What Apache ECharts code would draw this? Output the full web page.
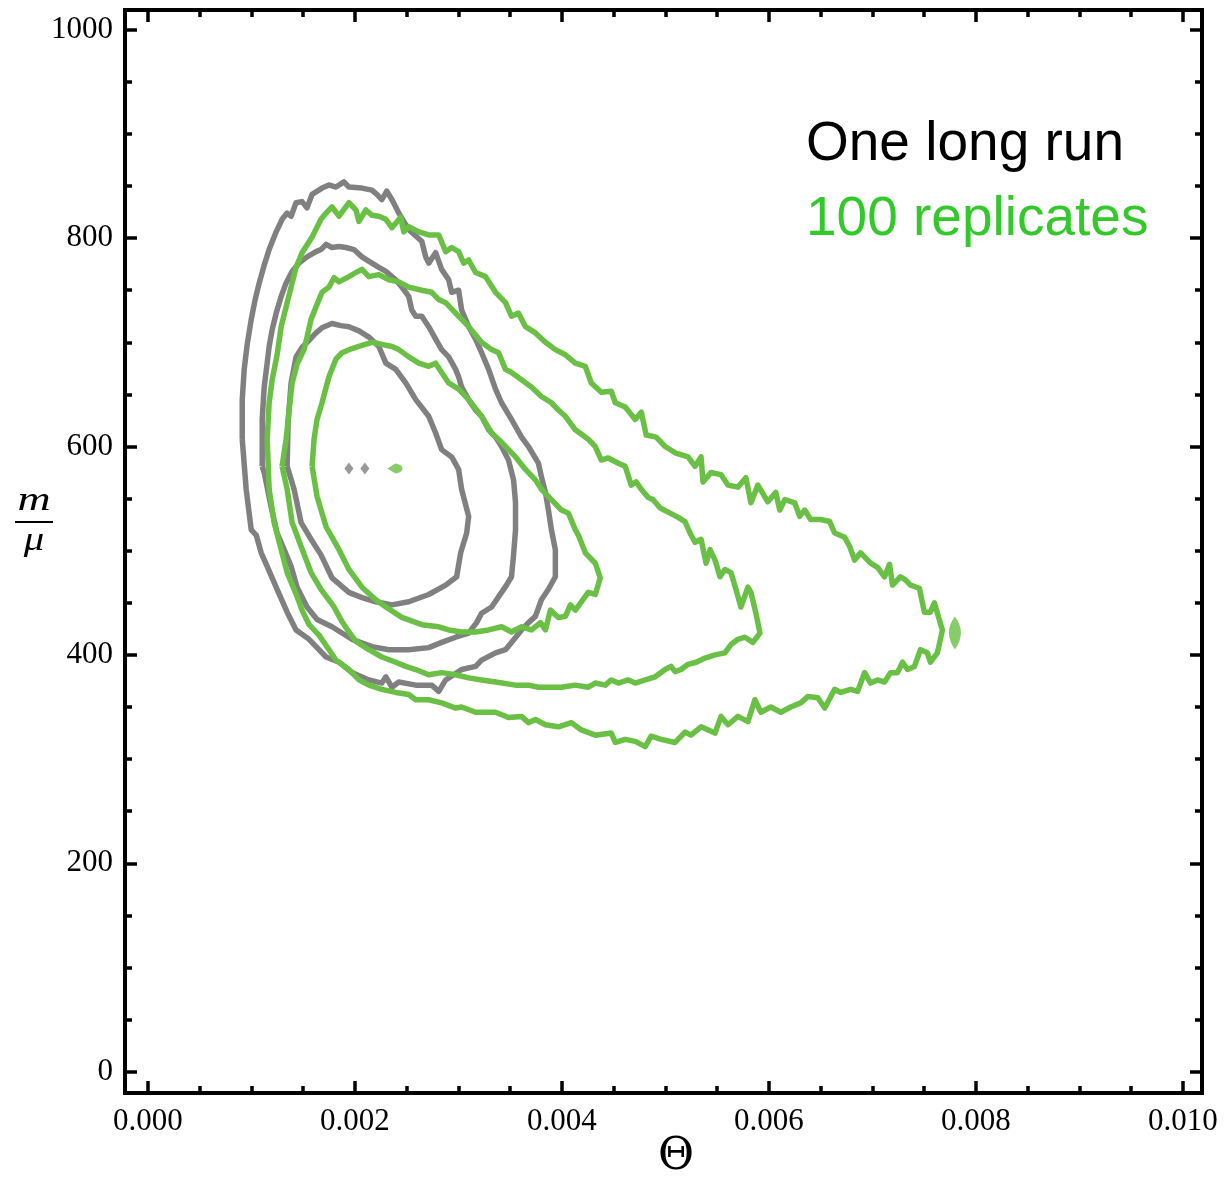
<!DOCTYPE html>
<html lang="en">
<head>
    <meta charset="UTF-8">
    <title>Contours</title>
    <style>
        html, body { margin: 0; padding: 0; background: #fff; }
        #box { width: 1230px; height: 1181px; }
    </style>
</head>
<body>
    <div id="box"></div>
</body>
<script src="https://cdn.jsdelivr.net/npm/echarts@6/dist/echarts.min.js"></script>
<script>
    // tick values
    var xMajor = [0, 0.002, 0.004, 0.006, 0.008, 0.010];
    var xMinor = [0.0005, 0.001, 0.0015, 0.0025, 0.003, 0.0035, 0.0045, 0.005, 0.0055,
        0.0065, 0.007, 0.0075, 0.0085, 0.009, 0.0095];
    var yMajor = [0, 200, 400, 600, 800, 1000];
    var yMinor = [50, 100, 150, 250, 300, 350, 450, 500, 550, 650, 700, 750, 850, 900, 950];

    // one long run (gray), outer / middle / inner contour
    var grayOuter = [[0.000911,607],[0.000911,645],[0.000930,674],[0.000959,698],[0.000998,722],[0.001036,741],[0.001075,757],[0.001123,774],[0.001171,789],[0.001239,806],[0.001296,818],[0.001345,824],[0.001383,821],[0.001431,834],[0.001489,835],[0.001537,829],[0.001586,842],[0.001682,848],[0.001749,851],[0.001817,849],[0.001894,854],[0.001942,849],[0.002068,848],[0.002164,846],[0.002212,842],[0.002260,837],[0.002308,845],[0.002357,837],[0.002424,824],[0.002520,808],[0.002646,797],[0.002684,782],[0.002713,776],[0.002780,786],[0.002838,770],[0.002906,760],[0.002935,748],[0.003002,750],[0.003031,731],[0.003099,715],[0.003166,703],[0.003224,690],[0.003292,674],[0.003359,655],[0.003417,642],[0.003513,626],[0.003610,609],[0.003677,600],[0.003773,584],[0.003802,571],[0.003841,556],[0.003870,539],[0.003899,520],[0.003937,501],[0.003937,475],[0.003870,463],[0.003802,453],[0.003744,437],[0.003677,431],[0.003610,424],[0.003513,412],[0.003455,405],[0.003359,402],[0.003224,395],[0.003166,389],[0.003031,386],[0.002877,376],[0.002810,365],[0.002742,371],[0.002588,371],[0.002424,374],[0.002357,369],[0.002299,379],[0.002260,373],[0.002135,376],[0.001971,383],[0.001846,393],[0.001721,398],[0.001557,415],[0.001431,424],[0.001345,441],[0.001248,463],[0.001152,485],[0.001094,498],[0.001046,515],[0.000998,520],[0.000949,559]];
    var grayMiddle = [[0.001104,581],[0.001104,626],[0.001123,657],[0.001152,680],[0.001171,696],[0.001200,712],[0.001239,728],[0.001287,744],[0.001335,757],[0.001393,768],[0.001460,776],[0.001537,782],[0.001624,787],[0.001672,789],[0.001721,794],[0.001778,791],[0.001846,792],[0.001913,791],[0.001990,789],[0.002068,782],[0.002164,776],[0.002231,772],[0.002299,768],[0.002395,760],[0.002453,753],[0.002520,744],[0.002549,731],[0.002588,725],[0.002646,725],[0.002713,715],[0.002780,703],[0.002838,693],[0.002906,686],[0.002973,674],[0.003002,667],[0.003031,657],[0.003099,645],[0.003166,635],[0.003224,629],[0.003292,616],[0.003359,609],[0.003417,600],[0.003484,587],[0.003533,568],[0.003552,546],[0.003552,520],[0.003533,496],[0.003513,475],[0.003465,467],[0.003417,460],[0.003321,446],[0.003224,440],[0.003176,431],[0.003099,421],[0.002973,417],[0.002838,412],[0.002713,407],[0.002520,405],[0.002328,405],[0.002164,408],[0.001971,415],[0.001778,427],[0.001634,434],[0.001537,446],[0.001441,465],[0.001383,485],[0.001316,501],[0.001248,517],[0.001190,542],[0.001123,575]];
    var grayInner = [[0.001345,581],[0.001354,623],[0.001383,661],[0.001431,686],[0.001489,695],[0.001557,702],[0.001624,709],[0.001682,714],[0.001778,718],[0.001865,716],[0.001942,715],[0.002039,711],[0.002135,705],[0.002231,696],[0.002299,680],[0.002395,674],[0.002491,661],[0.002588,645],[0.002713,629],[0.002780,613],[0.002838,597],[0.002935,590],[0.003002,578],[0.003031,559],[0.003099,533],[0.003080,517],[0.003022,498],[0.002983,475],[0.002877,467],[0.002713,458],[0.002520,451],[0.002357,448],[0.002202,451],[0.002068,455],[0.001942,460],[0.001778,474],[0.001672,496],[0.001576,511],[0.001480,527],[0.001412,559]];
    var grayPeak = [[0.001942,579],[0.002096,579]];

    // 100 replicates (green), outer / middle / inner contour
    var greenOuter = [[0.001171,559],[0.001152,607],[0.001171,642],[0.001200,664],[0.001248,688],[0.001287,715],[0.001335,734],[0.001383,753],[0.001431,772],[0.001489,786],[0.001586,801],[0.001672,818],[0.001721,824],[0.001778,830],[0.001846,821],[0.001942,834],[0.002010,827],[0.002039,816],[0.002106,827],[0.002164,822],[0.002231,821],[0.002299,818],[0.002357,810],[0.002443,820],[0.002472,806],[0.002520,811],[0.002617,806],[0.002713,803],[0.002810,803],[0.002877,787],[0.002935,791],[0.003002,787],[0.003051,776],[0.003099,779],[0.003166,767],[0.003263,763],[0.003359,748],[0.003455,738],[0.003513,725],[0.003581,728],[0.003648,715],[0.003744,709],[0.003841,700],[0.003937,693],[0.004034,688],[0.004130,680],[0.004226,677],[0.004284,661],[0.004381,652],[0.004477,653],[0.004516,642],[0.004612,638],[0.004709,626],[0.004767,633],[0.004815,611],[0.004911,609],[0.004998,600],[0.005094,594],[0.005219,590],[0.005287,581],[0.005345,590],[0.005364,566],[0.005441,575],[0.005538,573],[0.005605,563],[0.005701,561],[0.005778,570],[0.005827,546],[0.005894,563],[0.005990,547],[0.006067,556],[0.006106,539],[0.006154,549],[0.006250,546],[0.006298,533],[0.006347,539],[0.006404,530],[0.006501,530],[0.006588,528],[0.006636,517],[0.006732,513],[0.006781,504],[0.006829,491],[0.006887,498],[0.006983,488],[0.007051,484],[0.007118,475],[0.007166,487],[0.007195,467],[0.007272,475],[0.007320,472],[0.007369,467],[0.007455,464],[0.007503,441],[0.007561,441],[0.007600,450],[0.007629,440],[0.007677,424],[0.007658,415],[0.007629,402],[0.007561,393],[0.007532,402],[0.007465,405],[0.007407,389],[0.007340,386],[0.007292,393],[0.007243,383],[0.007176,383],[0.007118,374],[0.007051,376],[0.006983,373],[0.006925,383],[0.006858,365],[0.006791,367],[0.006694,364],[0.006636,367],[0.006540,349],[0.006472,359],[0.006376,360],[0.006308,354],[0.006212,350],[0.006116,345],[0.006019,350],[0.005923,345],[0.005865,357],[0.005798,336],[0.005701,341],[0.005605,333],[0.005538,341],[0.005480,325],[0.005345,331],[0.005248,323],[0.005190,326],[0.005094,316],[0.004959,319],[0.004863,322],[0.004805,312],[0.004709,317],[0.004612,319],[0.004516,316],[0.004477,325],[0.004323,323],[0.004188,328],[0.004092,335],[0.003966,331],[0.003841,333],[0.003744,338],[0.003677,335],[0.003610,341],[0.003484,340],[0.003359,345],[0.003263,345],[0.003166,345],[0.003031,350],[0.002973,349],[0.002838,354],[0.002713,357],[0.002588,357],[0.002520,362],[0.002395,364],[0.002260,367],[0.002135,371],[0.002039,376],[0.001942,386],[0.001817,395],[0.001749,405],[0.001653,419],[0.001557,429],[0.001489,443],[0.001441,456],[0.001345,479],[0.001287,501],[0.001219,527]];
    var greenMiddle = [[0.001296,581],[0.001335,607],[0.001364,635],[0.001393,661],[0.001441,679],[0.001508,693],[0.001537,705],[0.001576,722],[0.001624,734],[0.001682,748],[0.001749,753],[0.001798,762],[0.001846,758],[0.001942,763],[0.002010,767],[0.002068,770],[0.002135,763],[0.002231,765],[0.002328,760],[0.002424,758],[0.002520,753],[0.002646,750],[0.002742,748],[0.002810,741],[0.002877,738],[0.002973,728],[0.003099,715],[0.003224,700],[0.003321,693],[0.003388,690],[0.003455,674],[0.003513,671],[0.003610,664],[0.003706,657],[0.003802,648],[0.003899,642],[0.003966,635],[0.004034,629],[0.004130,616],[0.004255,607],[0.004323,600],[0.004381,587],[0.004448,589],[0.004545,584],[0.004612,581],[0.004670,563],[0.004718,566],[0.004767,559],[0.004834,551],[0.004882,549],[0.004950,541],[0.005027,537],[0.005123,532],[0.005190,528],[0.005238,517],[0.005287,508],[0.005345,511],[0.005393,488],[0.005432,501],[0.005480,491],[0.005528,475],[0.005576,482],[0.005634,479],[0.005682,463],[0.005730,446],[0.005798,465],[0.005827,460],[0.005875,440],[0.005914,421],[0.005846,412],[0.005769,417],[0.005701,415],[0.005634,410],[0.005576,402],[0.005480,400],[0.005384,397],[0.005297,393],[0.005219,391],[0.005152,386],[0.005094,384],[0.005055,389],[0.004998,386],[0.004902,379],[0.004805,376],[0.004709,373],[0.004641,376],[0.004545,373],[0.004477,376],[0.004419,371],[0.004323,373],[0.004255,369],[0.004130,371],[0.003995,369],[0.003870,369],[0.003773,369],[0.003677,371],[0.003552,371],[0.003359,374],[0.003224,376],[0.003099,378],[0.002973,381],[0.002838,383],[0.002713,381],[0.002588,386],[0.002491,389],[0.002395,393],[0.002260,398],[0.002135,405],[0.002010,413],[0.001942,422],[0.001875,432],[0.001798,446],[0.001672,463],[0.001576,479],[0.001480,504],[0.001393,527],[0.001345,559]];
    var greenInner = [[0.001586,581],[0.001605,607],[0.001634,626],[0.001682,642],[0.001749,667],[0.001817,684],[0.001875,690],[0.001971,694],[0.002068,697],[0.002164,700],[0.002260,698],[0.002357,696],[0.002424,693],[0.002520,686],[0.002617,680],[0.002713,677],[0.002780,680],[0.002838,671],[0.002906,661],[0.003002,655],[0.003099,645],[0.003224,629],[0.003321,613],[0.003417,604],[0.003552,590],[0.003648,578],[0.003744,568],[0.003802,559],[0.003899,549],[0.003995,539],[0.004063,536],[0.004130,520],[0.004159,515],[0.004226,498],[0.004323,488],[0.004371,474],[0.004323,458],[0.004255,460],[0.004188,451],[0.004130,443],[0.004082,448],[0.004034,437],[0.003966,436],[0.003889,443],[0.003841,424],[0.003793,431],[0.003706,424],[0.003610,427],[0.003513,422],[0.003417,427],[0.003292,424],[0.003166,422],[0.003031,422],[0.002906,424],[0.002810,427],[0.002646,429],[0.002453,436],[0.002299,446],[0.002202,453],[0.002068,465],[0.001942,482],[0.001846,501],[0.001721,523],[0.001634,552]];
    var greenPeak = [[0.002386,579]];
    var greenTip = [[0.007798,421]];

    var GRAY = '#808080';
    var GREEN = '#6abf45';
    var LABEL_GREEN = '#33c92b';
    var SERIF = '"Liberation Serif", "Times New Roman", serif';

    function closed(arr) {
        return arr.concat([arr[0]]);
    }

    function contour(name, arr, color) {
        return {
            name: name,
            type: 'line',
            data: closed(arr),
            symbol: 'none',
            smooth: false,
            clip: true,
            lineStyle: { color: color, width: 5.5, join: 'round' },
            z: color === GREEN ? 3 : 2,
            silent: true
        };
    }

    var xExtent = [-0.000222, 0.010186];
    var yExtent = [-20.4, 1018.9];

    function axis(pos, isX, ticks, len, main, labels) {
        var a = {
            type: 'value',
            position: pos,
            min: isX ? xExtent[0] : yExtent[0],
            max: isX ? xExtent[1] : yExtent[1],
            axisLine: { show: main, onZero: false, lineStyle: { color: '#000', width: 4, cap: 'square' } },
            axisTick: { show: true, inside: true, length: len, customValues: ticks, lineStyle: { color: '#000', width: 3.5 } },
            axisLabel: { show: false },
            splitLine: { show: false },
            minorTick: { show: false }
        };
        if (labels) {
            a.axisLabel = {
                show: true,
                customValues: ticks,
                color: '#000',
                fontFamily: SERIF,
                fontSize: 31,
                margin: isX ? 13 : 12,
                formatter: isX ? function (v) { return v.toFixed(3); } : function (v) { return String(Math.round(v)); }
            };
        }
        return a;
    }

    var box = echarts.init(document.getElementById('box'));
    var option = {
        backgroundColor: '#fff',
        animation: false,
        grid: { left: 125, top: 10, width: 1077, height: 1083, containLabel: false },
        xAxis: [
            axis('bottom', true, xMajor, 12, true, true),
            axis('top', true, xMajor, 12, true, false),
            axis('bottom', true, xMinor, 7, false, false),
            axis('top', true, xMinor, 7, false, false)
        ],
        yAxis: [
            axis('left', false, yMajor, 12, true, true),
            axis('right', false, yMajor, 12, true, false),
            axis('left', false, yMinor, 7, false, false),
            axis('right', false, yMinor, 7, false, false)
        ],
        graphic: [
            { type: 'text', x: 806, y: 145, style: { text: 'One long run', font: '55px "Liberation Sans", Arial, sans-serif', fill: '#000', verticalAlign: 'middle', textVerticalAlign: 'middle' } },
            { type: 'text', x: 806, y: 220, style: { text: '100 replicates', font: '55px "Liberation Sans", Arial, sans-serif', fill: LABEL_GREEN, verticalAlign: 'middle', textVerticalAlign: 'middle' } },
            { type: 'text', x: 34, y: 501, scaleX: 1.35, style: { text: 'm', font: 'italic 34px ' + SERIF, fill: '#000', align: 'center', textAlign: 'center', verticalAlign: 'middle', textVerticalAlign: 'middle' } },
            { type: 'line', shape: { x1: 15, y1: 522, x2: 53, y2: 522 }, style: { stroke: '#000', lineWidth: 2 } },
            { type: 'text', x: 34, y: 541, scaleX: 1.2, style: { text: 'μ', font: 'italic 34px ' + SERIF, fill: '#000', align: 'center', textAlign: 'center', verticalAlign: 'middle', textVerticalAlign: 'middle' } },
            { type: 'text', x: 676, y: 1158, style: { text: 'Θ', font: '44px "DejaVu Serif", serif', fill: '#000', align: 'center', textAlign: 'center', verticalAlign: 'middle', textVerticalAlign: 'middle' } }
        ],
        series: [
            contour('gray outer', grayOuter, GRAY),
            contour('gray middle', grayMiddle, GRAY),
            contour('gray inner', grayInner, GRAY),
            contour('green outer', greenOuter, GREEN),
            contour('green middle', greenMiddle, GREEN),
            contour('green inner', greenInner, GREEN),
            {
                type: 'scatter', data: grayPeak, symbol: 'diamond', symbolSize: [9, 12],
                itemStyle: { color: GRAY }, silent: true, z: 2
            },
            {
                type: 'scatter', data: greenPeak, symbol: 'path://M0,5 L8,0 Q15,1 15,5 Q15,9 8,10 Z', symbolSize: [15, 10],
                itemStyle: { color: GREEN }, silent: true, z: 3
            },
            {
                type: 'scatter', data: greenTip, symbol: 'path://M6,0 Q13,16 6,33 Q-1,16 6,0 Z', symbolSize: [12, 33],
                itemStyle: { color: GREEN }, silent: true, z: 3
            }
        ]
    };
    box.setOption(option);
</script>
</html>
